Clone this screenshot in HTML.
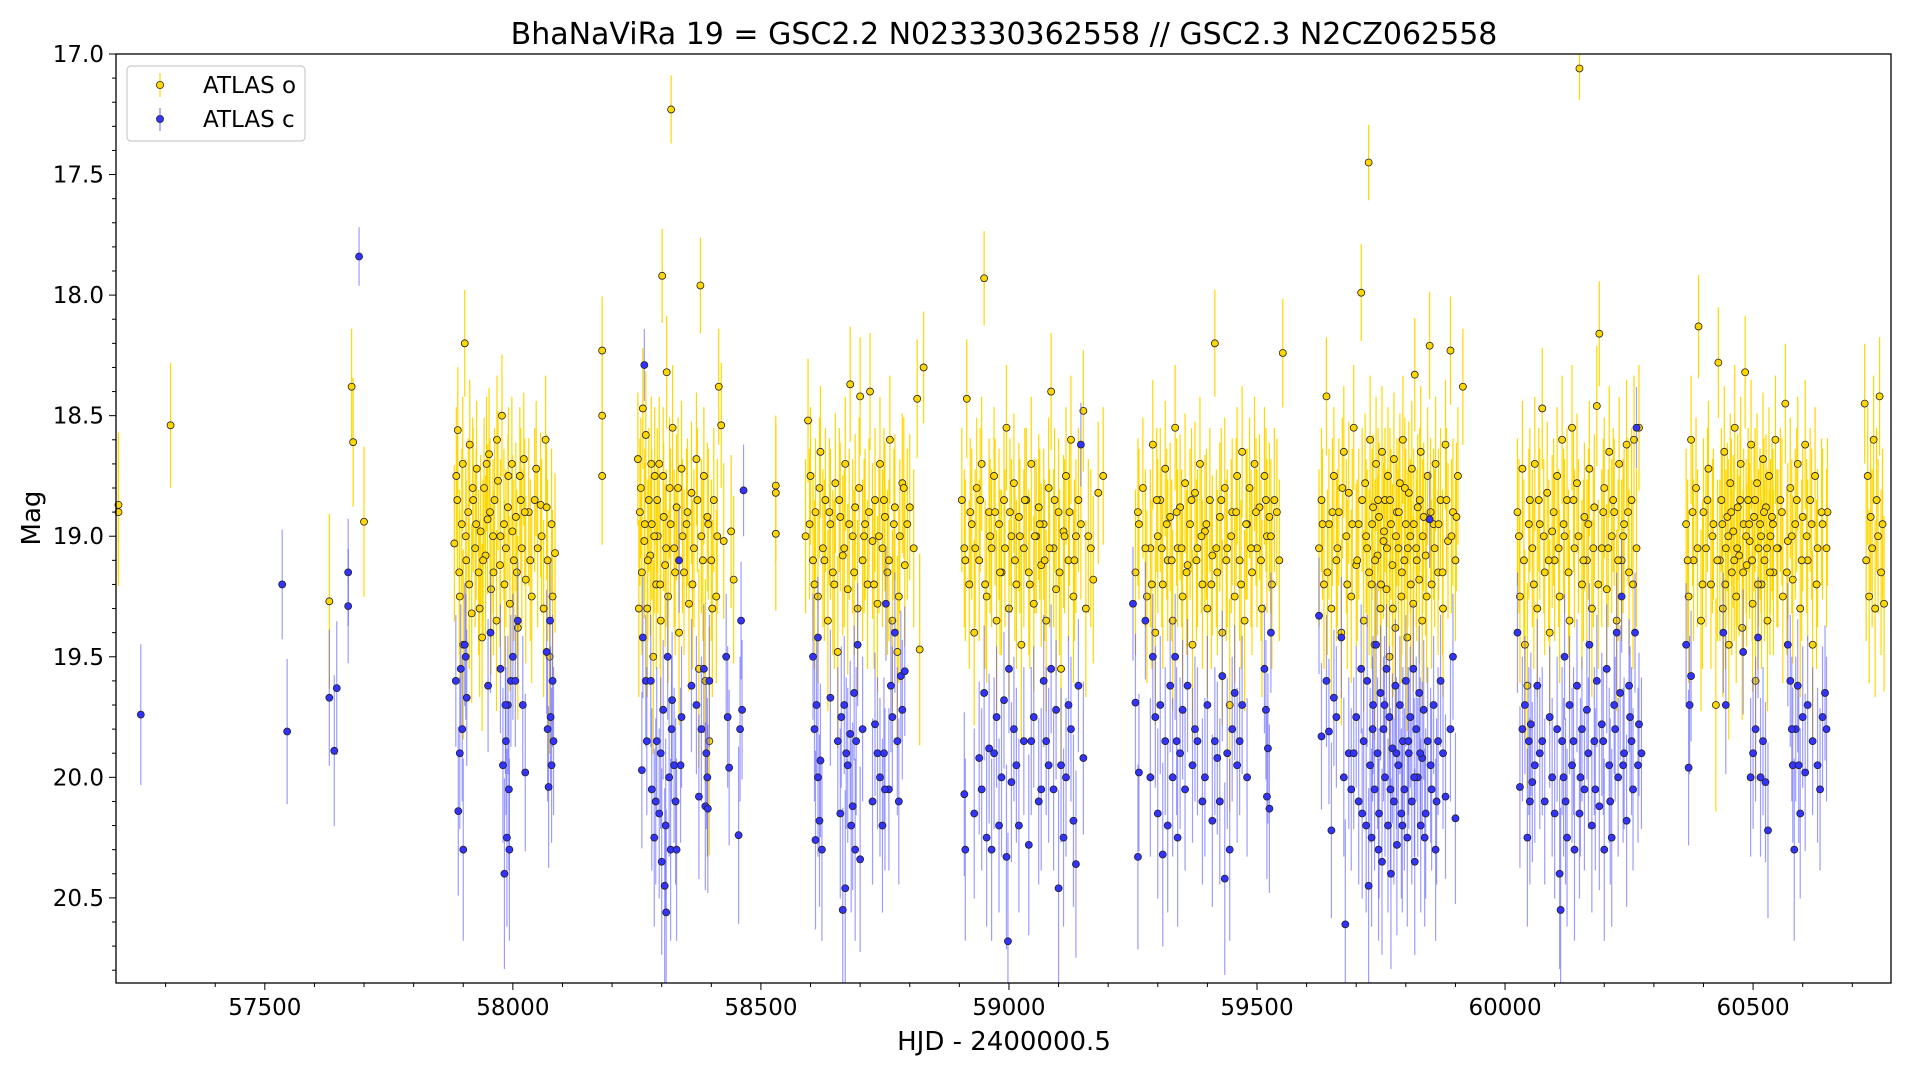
<!DOCTYPE html>
<html><head><meta charset="utf-8"><style>
html,body{margin:0;padding:0;background:#fff;}
svg{display:block;font-family:"DejaVu Sans","Liberation Sans",sans-serif;}
</style></head><body>
<svg id="chart" width="1920" height="1080" viewBox="0 0 1920 1080" xmlns="http://www.w3.org/2000/svg">
<rect x="0" y="0" width="1920" height="1080" fill="#fff"/>
<g id="errO"></g>
<g id="ptsO"></g>
<g id="errC"></g>
<g id="ptsC"></g>
<rect x="0" y="0" width="1920" height="54" fill="#fff"/>
<rect x="0" y="983" width="1920" height="97" fill="#fff"/>
<text x="1004" y="44" font-size="30" text-anchor="middle" fill="#000">BhaNaViRa 19 = GSC2.2 N023330362558 // GSC2.3 N2CZ062558</text>
<rect x="116" y="54" width="1775" height="929" fill="none" stroke="#000" stroke-width="1.3"/>
<g id="xaxis"></g>
<g id="yaxis"></g>
<text x="1004" y="1050" font-size="26" text-anchor="middle" fill="#000">HJD - 2400000.5</text>
<text x="40" y="518" font-size="26" text-anchor="middle" fill="#000" transform="rotate(-90 40 518)">Mag</text>
<g>
<rect x="127" y="66" width="178" height="75" rx="4" fill="#fff" fill-opacity="0.85" stroke="#ccc" stroke-width="1.2"/>
<g>
<line x1="160" y1="73" x2="160" y2="97" stroke="#ffd700" stroke-width="1.2"/>
<circle cx="160" cy="85" r="3.6" fill="#ffd700" stroke="#333" stroke-width="0.8"/>
<text x="203" y="93" font-size="23" fill="#000">ATLAS o</text></g>
<g>
<line x1="160" y1="108" x2="160" y2="131" stroke="#8080ff" stroke-width="1.2"/>
<circle cx="160" cy="119" r="3.6" fill="#3333ff" stroke="#333" stroke-width="0.8"/>
<text x="203" y="127" font-size="23" fill="#000">ATLAS c</text></g>
</g>
</svg>
<script>
const xTicks = [57500, 58000, 58500, 59000, 59500, 60000, 60500];
const yTicks = [17.0, 17.5, 18.0, 18.5, 19.0, 19.5, 20.0, 20.5];
const xDomain = [57200, 60778];
const yDomain = [17.0, 20.853];
const atlasOHjd = [57205,57205,57310,57630,57675,57678,57700,58180,58180,58180,
57882,57886,57889,57893,57897,57900,57903,57906,57910,57913,57917,57920,57924,57927,57931,57935,57938,57942,57945,57949,57952,57956,57960,57963,57967,57970,57974,57978,57982,57986,57990,57994,57998,58002,58006,58010,58014,58018,58022,58026,58032,58038,58044,58050,58056,58062,58066,58070,58074,58078,58085,
58252,58256,58260,58262,58265,58268,58271,58274,58277,58280,58283,58286,58289,58292,58295,58298,58301,58304,58307,58310,58313,58316,58319,58322,58325,58330,58335,58340,58345,58350,58355,58360,58365,58370,58375,58378,58380,58385,58388,58392,58396,58400,58405,58410,58415,58420,58425,58440,58445,
58530,58530,58530,58590,58595,58600,58605,58610,58615,58620,58625,58630,58635,58640,58645,58650,58655,58660,58665,58670,58675,58680,58685,58690,58695,58700,58705,58710,58715,58720,58725,58730,58735,58740,58745,58750,58755,58760,58765,58770,58775,58780,58785,58790,58795,58800,58808,58815,58820,58828,
58905,58910,58915,58920,58925,58930,58935,58940,58945,58950,58955,58960,58965,58970,58975,58980,58985,58990,58995,59000,59005,59010,59015,59020,59025,59030,59035,59040,59045,59050,59055,59060,59065,59070,59075,59080,59085,59090,59095,59100,59105,59110,59115,59120,59125,59130,59135,59140,59150,59155,59160,59170,59180,59190,
59255,59262,59270,59278,59285,59290,59295,59300,59305,59310,59315,59320,59325,59330,59335,59340,59345,59350,59355,59360,59365,59370,59375,59380,59385,59390,59395,59400,59405,59410,59415,59420,59425,59430,59435,59440,59445,59450,59455,59460,59465,59470,59475,59480,59485,59490,59495,59500,59505,59510,59515,59520,59525,59530,59535,59545,59552,
59625,59630,59635,59640,59645,59650,59655,59660,59665,59670,59675,59680,59685,59690,59695,59700,59705,59710,59715,59718,59722,59725,59728,59731,59734,59737,59740,59743,59746,59749,59752,59755,59758,59761,59764,59767,59770,59773,59776,59779,59782,59785,59788,59791,59794,59797,59800,59803,59806,59809,59812,59815,59818,59821,59824,59827,59830,59833,59836,59840,59844,59848,59852,59856,59860,59865,59870,59875,59880,59885,59890,59895,59900,59905,59915,
60025,60030,60035,60040,60045,60050,60055,60060,60065,60070,60075,60080,60085,60090,60095,60100,60105,60110,60115,60120,60125,60130,60135,60140,60145,60150,60155,60160,60165,60170,60175,60180,60185,60190,60195,60200,60205,60210,60215,60220,60225,60230,60235,60240,60245,60250,60255,60260,60265,60270,
60365,60370,60375,60380,60385,60390,60395,60400,60405,60410,60415,60420,60425,60430,60433,60436,60439,60442,60445,60448,60451,60454,60457,60460,60463,60466,60469,60472,60475,60478,60481,60484,60487,60490,60493,60496,60499,60502,60505,60508,60511,60514,60517,60520,60523,60526,60529,60532,60535,60538,60541,60545,60550,60555,60560,60565,60570,60575,60580,60585,60590,60595,60600,60605,60610,60615,60620,60625,60630,60640,60650,
60725,60728,60731,60734,60737,60740,60743,60746,60749,60752,60755,60758,60761,60764,
57888,57892,57899,57905,57912,57919,57926,57933,57940,57947,57954,57961,57968,57975,57983,57991,57999,58008,58016,58024,58035,58047,58058,58068,58080,
58254,58258,58266,58272,58279,58285,58291,58297,58303,58309,58318,58327,58333,58342,58352,58362,58372,58383,58394,58402,58412,
58598,58608,58618,58628,58638,58648,58658,58668,58678,58688,58698,58708,58718,58728,58738,58748,58758,58768,58778,58788,
58912,58922,58932,58942,58952,58962,58972,58982,58992,59002,59012,59022,59032,59042,59052,59062,59072,59082,59092,59102,59112,59122,59132,59145,59165,
59260,59275,59288,59298,59308,59318,59328,59338,59348,59358,59368,59378,59388,59398,59408,59418,59428,59438,59448,59458,59468,59478,59488,59498,59508,59518,59528,59540,
59632,59642,59652,59662,59672,59682,59692,59702,59712,59720,59726,59732,59738,59744,59750,59756,59762,59768,59774,59780,59786,59792,59798,59804,59810,59816,59822,59828,59834,59842,59850,59858,59866,59874,59882,59892,59902,
60028,60038,60048,60058,60068,60078,60088,60098,60108,60118,60128,60138,60148,60158,60168,60178,60188,60198,60208,60218,60228,60238,60248,60258,
60368,60378,60388,60398,60408,60418,60428,60438,60444,60450,60456,60462,60468,60474,60480,60486,60492,60498,60504,60510,60516,60522,60528,60534,60540,60548,60558,60568,60578,60588,60598,60608,60618,60628,60638,60648];
const atlasOMag = [18.87,18.90,18.54,19.27,18.38,18.61,18.94,18.23,18.50,18.75,
19.03,18.75,18.56,19.25,18.95,19.45,18.20,19.10,18.90,18.62,19.32,18.85,19.05,18.72,19.15,18.98,19.42,18.80,19.08,18.93,18.66,19.22,19.00,18.85,19.35,18.77,19.12,18.50,18.95,19.05,18.88,19.28,18.70,19.10,18.92,19.38,18.75,19.05,18.68,19.18,18.90,19.25,18.85,19.05,18.87,19.30,18.60,19.10,19.50,18.95,19.07,
18.68,18.90,19.15,18.47,19.02,18.58,19.30,18.85,19.08,18.95,19.50,18.75,19.20,19.00,18.70,19.35,17.92,18.92,19.12,18.32,19.25,18.80,17.23,18.55,19.05,18.88,19.40,18.72,19.15,18.95,19.28,18.82,19.05,18.68,19.55,17.96,19.00,18.75,19.60,18.92,19.85,19.10,18.85,19.25,18.38,18.54,19.02,18.98,19.18,
18.79,18.82,18.99,19.00,18.52,18.75,19.10,18.90,19.25,18.65,19.05,18.85,19.35,18.95,19.15,18.78,19.48,18.92,19.08,18.70,19.22,18.37,19.00,18.88,19.30,18.42,19.10,18.95,19.20,18.40,19.02,18.85,19.28,18.70,19.05,18.92,19.15,18.60,19.35,18.88,19.48,19.00,18.78,19.12,18.95,18.88,19.05,18.43,19.47,18.30,
18.85,19.05,18.43,19.20,18.95,19.40,18.80,19.10,18.70,17.93,19.25,18.90,19.05,18.75,19.35,18.95,19.15,18.85,18.55,19.30,19.00,18.78,19.20,18.92,19.45,19.05,18.85,19.15,18.70,19.28,19.00,18.88,19.12,18.95,19.35,18.80,18.40,19.05,19.22,18.90,19.55,18.98,18.75,19.10,18.60,19.25,19.00,18.85,18.48,19.30,19.00,19.18,18.82,18.75,
19.15,18.95,18.80,19.25,19.05,18.62,19.40,19.00,18.85,19.20,18.72,19.10,18.92,19.35,18.55,19.05,18.88,19.25,18.78,19.12,18.95,19.45,18.82,19.05,18.70,19.20,18.98,19.30,18.85,19.08,18.20,19.15,18.92,19.40,18.80,19.05,19.70,18.90,19.25,18.75,19.10,18.65,19.35,18.95,18.80,19.15,18.70,19.05,18.88,19.30,18.75,19.00,18.92,19.20,18.85,19.10,18.24,
19.05,18.85,19.20,18.42,18.95,19.30,18.75,19.10,18.90,19.40,18.65,19.00,18.82,19.25,18.55,19.12,18.95,17.99,19.35,18.78,19.05,17.45,18.60,19.20,18.88,19.45,18.70,19.08,18.92,19.30,18.65,19.02,18.85,19.22,18.75,19.50,18.95,19.12,18.68,19.38,18.90,19.05,18.78,19.25,18.60,19.10,18.95,19.42,18.82,19.00,18.72,19.28,18.33,19.05,18.88,19.18,18.65,19.35,18.92,19.08,18.75,18.21,19.20,18.95,18.70,19.15,18.85,19.30,18.62,19.02,18.23,18.90,19.10,18.75,18.38,
18.90,19.25,18.72,19.45,19.62,18.85,19.05,18.70,19.30,18.95,18.47,19.15,18.82,19.40,18.98,19.10,18.75,19.25,18.60,19.00,18.85,19.35,18.55,19.05,18.78,17.06,19.20,18.92,19.10,18.72,19.30,18.88,18.46,18.16,19.05,18.80,19.22,18.65,19.00,18.90,19.35,18.70,19.10,18.95,18.62,19.15,18.85,18.60,19.05,18.55,
18.95,19.25,18.60,19.10,18.80,18.13,19.35,18.90,19.05,18.72,19.20,18.95,19.70,18.28,19.10,18.85,19.30,18.65,19.05,18.92,19.45,18.78,19.15,18.98,18.55,19.25,18.88,19.08,18.70,19.38,18.95,18.32,19.12,18.85,19.02,18.62,19.28,18.92,19.60,18.78,19.05,18.95,19.20,18.68,19.10,18.88,19.35,18.75,19.00,18.92,19.15,18.60,19.05,18.85,19.25,18.45,19.02,18.80,19.18,18.95,18.70,19.30,18.92,18.62,19.10,18.85,19.45,18.75,19.05,18.95,18.90,
18.45,19.10,18.75,19.25,18.92,19.05,18.60,19.30,18.85,19.00,18.42,19.15,18.95,19.28,
18.85,19.15,18.70,19.00,19.20,18.80,18.95,19.30,19.10,18.70,18.90,19.15,18.60,19.00,19.20,18.75,18.98,19.15,18.85,18.90,19.10,18.72,19.00,18.88,19.25,
19.30,18.80,18.95,19.10,18.70,19.00,18.85,19.20,18.75,19.05,18.95,19.15,18.80,19.00,18.90,19.20,18.85,19.10,18.95,19.30,19.00,
18.95,19.20,18.80,19.10,18.90,19.20,18.85,19.05,18.95,19.15,18.80,19.00,18.90,19.20,19.00,18.85,19.10,18.95,19.25,18.80,
19.10,18.90,19.05,18.85,19.20,19.00,18.90,19.15,19.05,18.90,19.10,19.00,18.85,19.20,19.00,18.95,19.10,19.05,18.85,19.15,19.00,18.90,19.10,18.95,19.05,
18.90,19.05,19.20,18.85,19.05,18.95,19.10,18.90,19.05,19.15,18.85,19.10,19.00,18.95,19.20,19.05,18.85,19.10,19.00,18.90,19.20,18.95,19.05,18.90,19.10,18.85,19.00,18.90,
18.95,19.15,18.90,19.05,18.80,19.20,18.95,19.10,18.85,19.00,19.15,18.95,19.10,18.85,19.20,18.98,19.05,18.85,19.30,19.00,18.90,19.15,18.80,19.05,19.20,18.95,19.10,18.85,19.00,19.25,18.90,19.05,18.95,19.15,18.85,19.00,18.92,
19.00,19.10,18.95,19.20,18.85,19.00,19.10,18.90,19.05,18.95,19.15,18.85,19.00,19.10,18.95,19.05,19.20,18.90,19.05,18.85,19.10,19.00,18.90,19.20,
19.10,18.90,19.05,19.20,18.85,19.00,19.10,18.95,19.20,19.00,18.90,19.10,19.05,18.85,19.15,19.00,18.95,19.10,18.85,19.20,19.00,18.90,19.05,19.15,18.95,19.05,18.90,19.15,19.00,18.85,19.10,19.00,18.95,19.20,18.90,19.05];
const atlasCHjd = [57250,57535,57545,57630,57640,57645,57668,57668,57690,
57885,57890,57895,57898,57900,57903,57907,57950,57955,57975,57980,57983,57986,57988,57990,57993,57996,58000,58010,58020,58025,58068,58070,58072,58075,58078,58080,58082,
58260,58262,58265,58268,58280,58285,58290,58295,58300,58303,58306,58309,58312,58315,58318,58321,58325,58330,58335,58340,58360,58375,58380,58385,58388,58390,58393,58396,58430,58433,58436,58455,58458,58460,58462,58465,
58605,58610,58612,58615,58618,58620,58623,58640,58655,58660,58665,58668,58670,58675,58680,58685,58688,58690,58695,58700,58705,58725,58730,58740,58745,58748,58752,58758,58762,58770,58775,58778,58782,58785,58790,
58910,58912,58930,58940,58950,58955,58960,58965,58975,58985,58990,58995,58998,59000,59005,59010,59020,59030,59040,59050,59060,59070,59075,59085,59090,59095,59100,59105,59110,59120,59130,59135,59140,59145,59150,
59250,59255,59260,59262,59275,59290,59300,59305,59310,59315,59320,59325,59330,59335,59340,59345,59350,59360,59370,59380,59390,59400,59410,59420,59430,59435,59440,59445,59450,59455,59460,59470,59480,59515,59518,59520,59522,59525,59528,
59625,59630,59640,59645,59650,59655,59670,59678,59685,59690,59700,59705,59710,59715,59720,59722,59725,59728,59731,59734,59737,59740,59743,59746,59749,59752,59755,59758,59761,59764,59767,59770,59773,59776,59779,59782,59785,59788,59791,59794,59797,59800,59803,59806,59809,59812,59815,59818,59821,59824,59827,59830,59833,59836,59840,59844,59848,59852,59856,59860,59865,59870,59880,59890,59895,59900,
60025,60030,60040,60045,60048,60050,60052,60055,60065,60070,60080,60090,60100,60110,60112,60115,60118,60120,60125,60130,60135,60140,60145,60150,60155,60160,60165,60170,60175,60180,60185,60190,60195,60200,60205,60210,60215,60220,60225,60228,60232,60235,60240,60245,60250,60255,60258,60262,60265,60270,60275,
60365,60370,60375,60440,60445,60480,60495,60500,60510,60520,60525,60530,60570,60575,60580,60583,60586,60590,60595,60600,60605,60610,60630,60635,60640,60645,
57893,57905,57985,57992,58005,58076,
58270,58278,58288,58298,58308,58320,58328,58338,58370,58392,
58608,58615,58662,58672,58682,58692,58735,58750,58765,
58945,58970,58980,59015,59045,59065,59080,59115,59125,
59285,59295,59338,59355,59375,59395,59415,59425,59465,
59660,59675,59695,59712,59733,59745,59757,59769,59781,59793,59805,59817,59829,59838,59850,59862,59875,
60035,60060,60075,60095,60105,60122,60138,60152,60168,60182,60198,60212,60222,60238,60252,60268,
60372,60505,60515,60578,60592,60620,60648];
const atlasCMag = [19.74,19.20,19.81,19.67,19.89,19.63,19.15,19.29,17.84,
19.60,20.14,19.55,19.80,20.30,19.45,19.67,19.62,19.40,19.55,19.95,20.40,19.85,20.25,19.70,20.30,19.60,19.50,19.35,19.70,19.98,19.48,19.80,20.04,19.35,19.95,19.60,19.85,
19.97,19.42,18.29,19.60,20.05,20.25,19.85,20.15,20.35,19.72,20.45,20.56,19.50,20.00,20.30,19.68,19.95,20.30,19.10,19.75,19.62,20.08,19.80,19.55,20.12,19.90,20.13,19.60,19.50,19.75,19.96,20.24,19.80,19.35,19.72,18.81,
19.50,20.26,19.70,19.42,20.18,19.93,20.30,19.67,19.85,20.15,20.55,19.70,20.46,19.95,19.82,20.12,19.65,20.30,19.45,20.34,19.80,20.10,19.78,20.00,20.20,19.90,19.28,20.05,19.62,19.40,19.85,20.10,19.58,19.72,19.56,
20.07,20.30,20.15,19.92,19.65,20.25,19.88,20.30,19.75,20.00,19.68,20.33,20.68,19.55,20.02,19.80,20.20,19.85,20.28,19.75,20.10,19.60,19.85,19.55,20.05,19.72,20.46,19.95,20.25,19.70,20.18,20.36,19.62,18.62,19.92,
19.28,19.69,20.33,19.98,19.35,19.50,20.15,19.70,20.32,19.85,20.20,19.62,20.00,19.50,20.25,19.90,19.72,19.62,19.95,19.85,20.10,19.70,20.18,19.92,19.58,20.42,19.90,20.30,19.80,19.65,19.95,19.70,20.00,19.55,19.72,20.08,19.88,20.13,19.40,
19.33,19.83,19.60,19.81,20.22,19.67,19.42,20.61,19.90,20.05,19.75,20.10,19.55,19.85,20.20,19.60,20.45,19.95,20.25,19.70,20.05,19.45,19.90,20.15,19.65,20.35,19.80,20.00,19.55,20.20,19.75,20.40,19.88,20.10,19.62,20.28,19.95,19.70,20.15,19.85,20.05,19.60,20.25,19.90,19.75,20.10,19.55,20.35,19.80,20.00,19.65,20.20,19.92,19.72,20.15,19.85,18.93,20.05,19.70,20.30,19.85,19.60,20.08,19.80,19.50,20.17,
19.40,20.04,19.70,20.25,19.85,20.10,19.78,20.02,19.62,19.90,20.10,19.75,20.15,20.40,20.55,19.85,20.00,19.50,20.25,19.70,19.95,20.30,19.62,20.15,19.80,20.05,19.72,19.45,20.20,19.85,19.60,20.12,19.78,20.30,19.55,19.95,20.25,19.70,19.40,20.00,19.65,19.25,19.90,20.18,19.62,19.85,20.05,19.40,18.55,19.78,19.90,
19.45,19.96,19.58,19.40,19.70,19.48,20.00,19.90,19.42,19.85,20.02,20.22,19.45,19.60,19.95,20.30,19.80,19.62,20.15,19.75,19.98,19.70,19.95,20.05,19.75,19.65,
19.90,19.50,19.70,20.05,19.60,19.75,
19.85,19.60,20.10,19.90,20.20,19.80,20.10,19.95,19.70,20.00,
19.80,20.00,19.75,19.90,20.20,19.85,19.90,20.05,19.75,
20.05,19.90,20.20,19.95,19.85,20.05,19.95,20.00,19.80,
20.00,19.75,19.85,20.05,19.80,20.00,19.85,20.10,19.85,
19.75,20.00,19.90,20.15,19.80,20.30,19.70,20.05,19.90,20.20,19.85,20.00,19.90,20.25,19.95,20.10,19.90,
19.80,19.95,19.85,20.00,19.80,20.10,19.85,20.00,19.90,20.05,19.85,20.10,19.80,19.95,19.75,19.95,
19.70,19.80,20.00,19.80,19.95,19.85,19.80];

const L=116,R=1891,T=54,B=983;
function xScale(v){return L+(v-xDomain[0])/(xDomain[1]-xDomain[0])*(R-L);}
function yScale(v){return T+(v-yDomain[0])/(yDomain[1]-yDomain[0])*(B-T);}
const NS='http://www.w3.org/2000/svg';
function mk(tag,attrs){const e=document.createElementNS(NS,tag);for(const k in attrs)e.setAttribute(k,attrs[k]);return e;}

function drawSeries(hjd,mag,errG,ptsG,base,ref,lineCol,lineOp,fill,nm){
  for(let i=0;i<hjd.length;i++){
    const e=base*Math.pow(10,0.2*(mag[i]-ref));
    const x=xScale(hjd[i]);
    const ln=mk('line',{x1:x,x2:x,y1:yScale(mag[i]-e),y2:yScale(mag[i]+e),stroke:lineCol,'stroke-width':1.2,'stroke-opacity':lineOp});
    
    
    errG.appendChild(ln);
    const c=mk('circle',{cx:x,cy:yScale(mag[i]),r:3.5,fill:fill,stroke:'#222','stroke-width':0.8});
    
    
    ptsG.appendChild(c);
  }
}
drawSeries(atlasOHjd,atlasOMag,document.getElementById('errO'),document.getElementById('ptsO'),0.32,19.0,'#ffd700',1,'#ffd700','atlas-o');
drawSeries(atlasCHjd,atlasCMag,document.getElementById('errC'),document.getElementById('ptsC'),0.3,19.8,'#4d4dff',0.55,'#3333ff','atlas-c');

const xa=document.getElementById('xaxis');
for(let v=57300;v<=60700;v+=100){
  const x=xScale(v);const major=xTicks.indexOf(v)>=0;
  const t=mk('line',{x1:x,x2:x,y1:B,y2:B+(major?7:4),stroke:'#000','stroke-width':1});
  
  
  xa.appendChild(t);
}
xTicks.forEach(v=>{
  const tx=mk('text',{x:xScale(v),y:B+32,'font-size':23,'text-anchor':'middle',fill:'#000'});
  tx.textContent=String(v);
  
  
  xa.appendChild(tx);
});
const ya=document.getElementById('yaxis');
for(let k=170;k<=208;k++){
  const v=k/10;const y=yScale(v);const major=(k%5===0);
  const t=mk('line',{x1:L-(major?7:4),x2:L,y1:y,y2:y,stroke:'#000','stroke-width':1});
  
  
  ya.appendChild(t);
}
yTicks.forEach(v=>{
  const tx=mk('text',{x:L-12,y:yScale(v)+8,'font-size':23,'text-anchor':'end',fill:'#000'});
  tx.textContent=v.toFixed(1);
  
  
  ya.appendChild(tx);
});
</script>
</body></html>
